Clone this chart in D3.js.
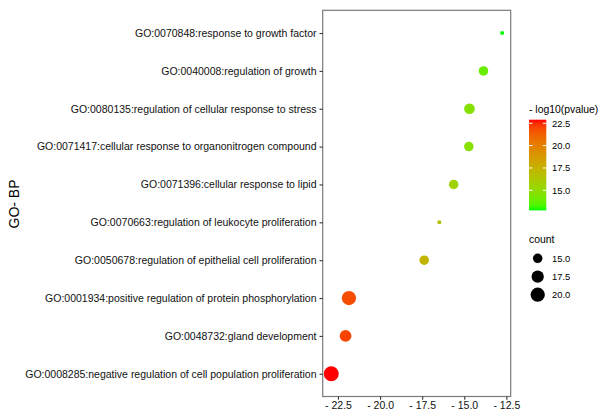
<!DOCTYPE html>
<html><head><meta charset="utf-8">
<script src="https://cdn.jsdelivr.net/npm/d3@7"></script>
<style>html,body{margin:0;padding:0;background:#fff}svg{display:block}text{font-family:"Liberation Sans",Arial,sans-serif}</style>
</head><body>
<script>
const terms = [
  "GO:0070848:response to growth factor",
  "GO:0040008:regulation of growth",
  "GO:0080135:regulation of cellular response to stress",
  "GO:0071417:cellular response to organonitrogen compound",
  "GO:0071396:cellular response to lipid",
  "GO:0070663:regulation of leukocyte proliferation",
  "GO:0050678:regulation of epithelial cell proliferation",
  "GO:0001934:positive regulation of protein phosphorylation",
  "GO:0048732:gland development",
  "GO:0008285:negative regulation of cell population proliferation"
];
const negLog10P = [12.75, 13.86, 14.69, 14.73, 15.63, 16.48, 17.38, 21.85, 22.05, 22.90];
const counts = [13, 15, 16, 15, 15, 13, 15, 20, 17, 21];
const xTicks = [-22.5, -20.0, -17.5, -15.0, -12.5];
const colorTicks = [15.0, 17.5, 20.0, 22.5];
const sizeTicks = [15.0, 17.5, 20.0];
const yTitle = "GO- BP";
const colorTitle = "- log10(pvalue)";
const sizeTitle = "count";

const W = 598, H = 412;
const P = {l: 322.7, r: 510.7, t: 10.3, b: 396.5};
const svg = d3.select("body").append("svg").attr("width", W).attr("height", H);

const xs = negLog10P.map(v => -v);
const xmin = d3.min(xs), xmax = d3.max(xs), span = xmax - xmin;
const x = d3.scaleLinear().domain([xmin - 0.05*span, xmax + 0.05*span]).range([P.l, P.r]);
const y = d3.scalePoint().domain(terms).range([P.t, P.b]).padding(0.6);
const cmin = d3.min(negLog10P), cmax = d3.max(negLog10P);
const color = d3.scaleLinear().domain([cmin, cmax]).range(["#00ff00", "#ff0000"]).interpolate(d3.interpolateLab);
const nmin = 13, nmax = 21;
const norm = d3.scaleLinear().domain([nmin, nmax]).range([0, 1]);
const rLin = d3.scaleLinear().domain([0, 1]).range([2, 7.5]);
const r = c => rLin(Math.sqrt(Math.max(0, norm(c))));

svg.append("rect").attr("x", P.l).attr("y", P.t).attr("width", P.r - P.l).attr("height", P.b - P.t)
  .attr("fill", "#fff");

svg.append("g").selectAll("circle").data(terms).join("circle")
  .attr("cx", (d, i) => x(xs[i]))
  .attr("cy", d => y(d))
  .attr("r", (d, i) => r(counts[i]))
  .attr("fill", (d, i) => color(negLog10P[i]));

svg.append("rect").attr("x", P.l).attr("y", P.t).attr("width", P.r - P.l).attr("height", P.b - P.t)
  .attr("fill", "none").attr("stroke", "#7a7a7a").attr("stroke-width", 1.2);

const yAxis = d3.axisLeft(y).tickSize(3.2).tickPadding(3);
const gy = svg.append("g").attr("transform", `translate(${P.l},0)`).call(yAxis);
gy.select(".domain").remove();
gy.selectAll("line").attr("stroke", "#333").attr("stroke-width", 1.1);
gy.selectAll("text").attr("fill", "#111").style("font-size", "10.5px").style("font-family", '"Liberation Sans",Arial,sans-serif');

const xAxis = d3.axisBottom(x).tickValues(xTicks).tickSize(3.2).tickPadding(2)
  .tickFormat(v => "- " + d3.format(".1f")(Math.abs(v)));
const gx = svg.append("g").attr("transform", `translate(0,${P.b})`).call(xAxis);
gx.select(".domain").remove();
gx.selectAll("line").attr("stroke", "#333").attr("stroke-width", 1.1);
gx.selectAll("text").attr("fill", "#111").style("font-size", "10.5px").style("font-family", '"Liberation Sans",Arial,sans-serif');

svg.append("text").attr("transform", "translate(18.5,204) rotate(-90)")
  .attr("text-anchor", "middle").style("font-size", "14px").attr("fill", "#000").text(yTitle);

const L = {x: 529, w: 17.3, top: 119.7, bot: 210.4};
svg.append("text").attr("x", L.x).attr("y", 113).style("font-size", "10.4px").attr("fill", "#000").text(colorTitle);
const grad = svg.append("defs").append("linearGradient").attr("id", "cb")
  .attr("x1", 0).attr("y1", 1).attr("x2", 0).attr("y2", 0);
d3.range(0, 1.0001, 0.05).forEach(t => {
  grad.append("stop").attr("offset", t).attr("stop-color", color(cmin + t * (cmax - cmin)));
});
svg.append("rect").attr("x", L.x).attr("y", L.top).attr("width", L.w).attr("height", L.bot - L.top).attr("fill", "url(#cb)");
const cy = d3.scaleLinear().domain([cmin, cmax]).range([L.bot, L.top]);
const cg = svg.append("g");
colorTicks.forEach(v => {
  const yy = cy(v);
  cg.append("line").attr("x1", L.x).attr("x2", L.x + 3.5).attr("y1", yy).attr("y2", yy).attr("stroke", "#fff").attr("stroke-width", 1);
  cg.append("line").attr("x1", L.x + L.w - 3.5).attr("x2", L.x + L.w).attr("y1", yy).attr("y2", yy).attr("stroke", "#fff").attr("stroke-width", 1);
  cg.append("text").attr("x", 552).attr("y", yy).attr("dy", "0.35em").style("font-size", "9.4px").attr("fill", "#000").text(d3.format(".1f")(v));
});

svg.append("text").attr("x", L.x).attr("y", 243).style("font-size", "10.4px").attr("fill", "#000").text(sizeTitle);
const sy = [258.3, 276.7, 294.7];
sizeTicks.forEach((v, i) => {
  svg.append("circle").attr("cx", 537.7).attr("cy", sy[i]).attr("r", r(v)).attr("fill", "#000");
  svg.append("text").attr("x", 552).attr("y", sy[i]).attr("dy", "0.35em").style("font-size", "9.4px").attr("fill", "#000").text(d3.format(".1f")(v));
});
</script>
</body></html>
